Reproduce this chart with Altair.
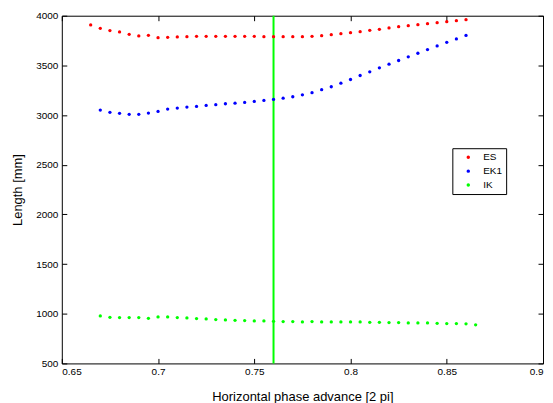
import altair as alt
import pandas as pd

# ---- data ----
es_x = [0.665, 0.670, 0.675, 0.680, 0.685, 0.690, 0.695, 0.700, 0.705, 0.710,
        0.715, 0.720, 0.725, 0.730, 0.735, 0.740, 0.745, 0.750, 0.755, 0.760,
        0.765, 0.770, 0.775, 0.780, 0.785, 0.790, 0.795, 0.800, 0.805, 0.810,
        0.815, 0.820, 0.825, 0.830, 0.835, 0.840, 0.845, 0.850, 0.855, 0.860]
es_y = [3907, 3873, 3850, 3837, 3813, 3797, 3803, 3779, 3782, 3786,
        3789, 3792, 3792, 3792, 3792, 3792, 3792, 3792, 3789, 3789,
        3789, 3789, 3789, 3792, 3799, 3809, 3819, 3829, 3839, 3853,
        3863, 3877, 3890, 3900, 3910, 3920, 3930, 3940, 3950, 3960]

ek1_x = [0.670, 0.675, 0.680, 0.685, 0.690, 0.695, 0.700, 0.705, 0.710,
         0.715, 0.720, 0.725, 0.730, 0.735, 0.740, 0.745, 0.750, 0.755, 0.760,
         0.765, 0.770, 0.775, 0.780, 0.785, 0.790, 0.795, 0.800, 0.805, 0.810,
         0.815, 0.820, 0.825, 0.830, 0.835, 0.840, 0.845, 0.850, 0.855, 0.860]
ek1_y = [3050, 3027, 3017, 3007, 3007, 3020, 3037, 3060, 3070,
         3080, 3087, 3097, 3104, 3114, 3120, 3127, 3137, 3147, 3157,
         3170, 3184, 3204, 3225, 3255, 3285, 3321, 3358, 3398, 3435,
         3475, 3512, 3549, 3586, 3622, 3659, 3696, 3732, 3766, 3802]

ik_x = [0.670, 0.675, 0.680, 0.685, 0.690, 0.695, 0.700, 0.705, 0.710,
        0.715, 0.720, 0.725, 0.730, 0.735, 0.740, 0.745, 0.750, 0.755, 0.760,
        0.765, 0.770, 0.775, 0.780, 0.785, 0.790, 0.795, 0.800, 0.805, 0.810,
        0.815, 0.820, 0.825, 0.830, 0.835, 0.840, 0.845, 0.850, 0.855, 0.860,
        0.865]
ik_y = [978, 964, 961, 961, 961, 954, 968, 968, 961,
        958, 951, 948, 941, 938, 934, 931, 928, 928, 924,
        921, 921, 918, 921, 918, 918, 918, 918, 918, 914,
        914, 911, 911, 908, 908, 908, 904, 901, 901, 898,
        888]

vline_x = [0.76]

series_names = ["ES", "EK1", "IK"]
series_colors = ["#ff0000", "#0000ff", "#00ff00"]

x_ticks = [0.65, 0.7, 0.75, 0.8, 0.85, 0.9]
y_ticks = [500, 1000, 1500, 2000, 2500, 3000, 3500, 4000]

# ---- tables ----
df = pd.concat([
    pd.DataFrame({"x": es_x, "y": es_y, "series": "ES"}),
    pd.DataFrame({"x": ek1_x, "y": ek1_y, "series": "EK1"}),
    pd.DataFrame({"x": ik_x, "y": ik_y, "series": "IK"}),
], ignore_index=True)
vdf = pd.DataFrame({"x": vline_x})

xscale = alt.Scale(domain=[0.65, 0.9], nice=False, zero=False)
yscale = alt.Scale(domain=[500, 4000], nice=False, zero=False)

FONT = "Liberation Sans"

vline = alt.Chart(vdf).mark_rule(color="#00ff00", strokeWidth=2).encode(
    x=alt.X("x:Q", scale=xscale,
            axis=alt.Axis(orient="top", values=x_ticks, labels=False, title=None,
                          domain=False, offset=-5, tickSize=5, grid=False))
)

points = alt.Chart(df).mark_circle(size=11, opacity=1).encode(
    x=alt.X("x:Q", scale=xscale,
            axis=alt.Axis(orient="bottom", values=x_ticks, format=".2~f",
                          title="Horizontal phase advance [2 pi]",
                          domain=False, offset=-5, tickSize=5, labelPadding=3,
                          titlePadding=14, grid=False)),
    y=alt.Y("y:Q", scale=yscale,
            axis=alt.Axis(orient="left", values=y_ticks, format="d",
                          title="Length [mm]",
                          domain=False, offset=-5, tickSize=5, labelPadding=4,
                          titlePadding=11, grid=False)),
    color=alt.Color("series:N",
                    scale=alt.Scale(domain=series_names, range=series_colors),
                    legend=alt.Legend(title=None, orient="none", legendX=392, legendY=133,
                                      strokeColor="black", fillColor="white", padding=4,
                                      symbolType="circle", symbolSize=12, symbolStrokeWidth=0,
                                      symbolOffset=7, labelOffset=10, rowPadding=4,
                                      labelFontSize=10, labelFont=FONT, labelColor="black")),
)

right_axis = alt.Chart(df).mark_point(opacity=0).encode(
    x=alt.X("x:Q", scale=xscale, axis=None),
    y=alt.Y("y:Q", scale=yscale,
            axis=alt.Axis(orient="right", values=y_ticks, labels=False, title=None,
                          domain=False, offset=-5, tickSize=5, grid=False)),
)

chart = alt.layer(vline, points, right_axis).resolve_axis(
    x="independent", y="independent"
).properties(
    width=483, height=349,
    autosize=alt.AutoSizeParams(type="none"),
    padding={"left": 54, "top": 7, "right": 2, "bottom": 40},
).configure_view(
    stroke="black", strokeWidth=1
).configure_axis(
    labelFont=FONT, titleFont=FONT, labelFontSize=10, titleFontSize=13,
    titleFontWeight="normal", labelColor="black", titleColor="black",
    tickColor="black", tickWidth=1
)

chart.save("out.html", embed_options={"renderer": "svg", "actions": False})
